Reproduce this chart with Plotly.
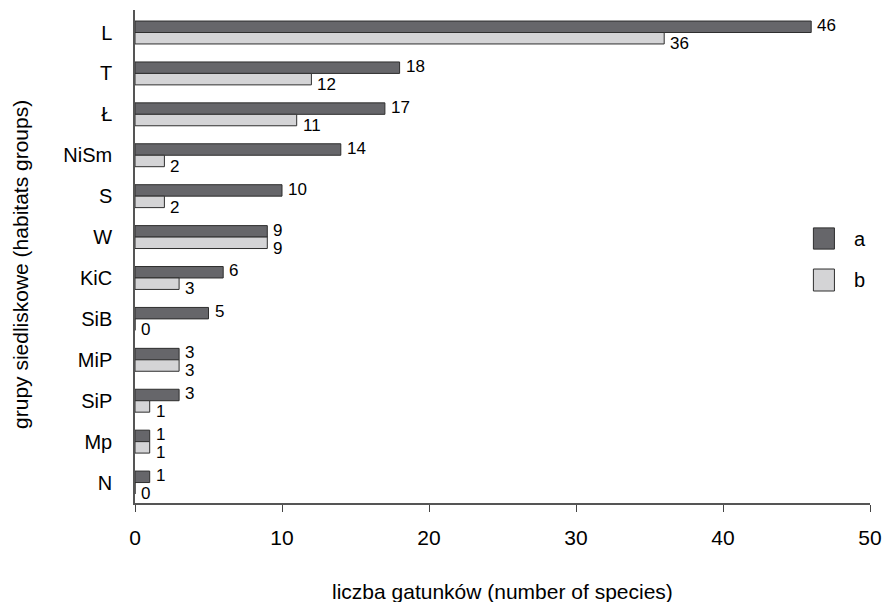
import plotly.graph_objects as go

# habitat groups (top to bottom) and species counts for series a and b
groups = ["L", "T", "Ł", "NiSm", "S", "W", "KiC", "SiB", "MiP", "SiP", "Mp", "N"]
series_a = [46, 18, 17, 14, 10, 9, 6, 5, 3, 3, 1, 1]
series_b = [36, 12, 11, 2, 2, 9, 3, 0, 3, 1, 1, 0]
x_ticks = [0, 10, 20, 30, 40, 50]

FONT = "Liberation Sans, Arial, sans-serif"
DARK = "#66666a"
LIGHT = "#d4d4d6"
EDGE = "#2e2e2e"

fig = go.Figure()
fig.add_trace(go.Bar(y=groups, x=series_a, orientation="h", name="a",
                     marker=dict(color=DARK, line=dict(color=EDGE, width=1))))
fig.add_trace(go.Bar(y=groups, x=series_b, orientation="h", name="b",
                     marker=dict(color=LIGHT, line=dict(color=EDGE, width=1))))

annotations = []
# value labels next to each bar end
for g, va, vb in zip(groups, series_a, series_b):
    annotations.append(dict(x=va, y=g, xref="x", yref="y", text=str(va),
                            showarrow=False, xanchor="left", yanchor="middle",
                            xshift=4, yshift=7, font=dict(size=17, color="black", family=FONT)))
    annotations.append(dict(x=vb, y=g, xref="x", yref="y", text=str(vb),
                            showarrow=False, xanchor="left", yanchor="middle",
                            xshift=4, yshift=-11, font=dict(size=17, color="black", family=FONT)))

# axis titles
annotations.append(dict(x=0.5, y=-0.18, xref="paper", yref="paper",
                        text="liczba gatunków (number of species)", showarrow=False,
                        xanchor="center", yanchor="middle",
                        font=dict(size=21, color="black", family=FONT)))
annotations.append(dict(x=-0.155, y=0.483, xref="paper", yref="paper",
                        text="grupy siedliskowe (habitats groups)", showarrow=False,
                        textangle=-90, xanchor="center", yanchor="middle",
                        font=dict(size=21, color="black", family=FONT)))

# legend: boxes and labels
shapes = []
legend_items = [("a", DARK, 0.558, 0.515), ("b", LIGHT, 0.4746, 0.430)]
for name, col, y_top, y_bot in legend_items:
    shapes.append(dict(type="rect", xref="paper", yref="paper",
                       x0=0.923, x1=0.9516, y0=y_bot, y1=y_top,
                       fillcolor=col, line=dict(color=EDGE, width=1)))
    annotations.append(dict(x=0.976, y=(y_top + y_bot) / 2, xref="paper", yref="paper",
                            text=name, showarrow=False, xanchor="left", yanchor="middle",
                            font=dict(size=20, color="black", family=FONT)))

fig.update_layout(
    width=892, height=602,
    margin=dict(l=135, r=14, t=10, b=99),
    paper_bgcolor="white", plot_bgcolor="white",
    barmode="group", bargap=0.44, bargroupgap=0,
    showlegend=False,
    font=dict(family=FONT, color="black"),
    annotations=annotations,
    shapes=shapes,
)
fig.update_xaxes(range=[0, 50], tickvals=x_ticks, ticks="outside", ticklen=7,
                 tickcolor="#444", showline=True, linecolor="#555", linewidth=1.5,
                 showgrid=False, zeroline=False, tickfont=dict(size=21, family=FONT),
                 ticklabelstandoff=8)
fig.update_yaxes(autorange="reversed", categoryorder="array", categoryarray=groups,
                 showline=True, linecolor="#555", linewidth=1.5, showgrid=False,
                 ticks="outside", ticklen=17, tickcolor="rgba(0,0,0,0)",
                 tickfont=dict(size=20, family=FONT))

fig.write_html("out.html")
